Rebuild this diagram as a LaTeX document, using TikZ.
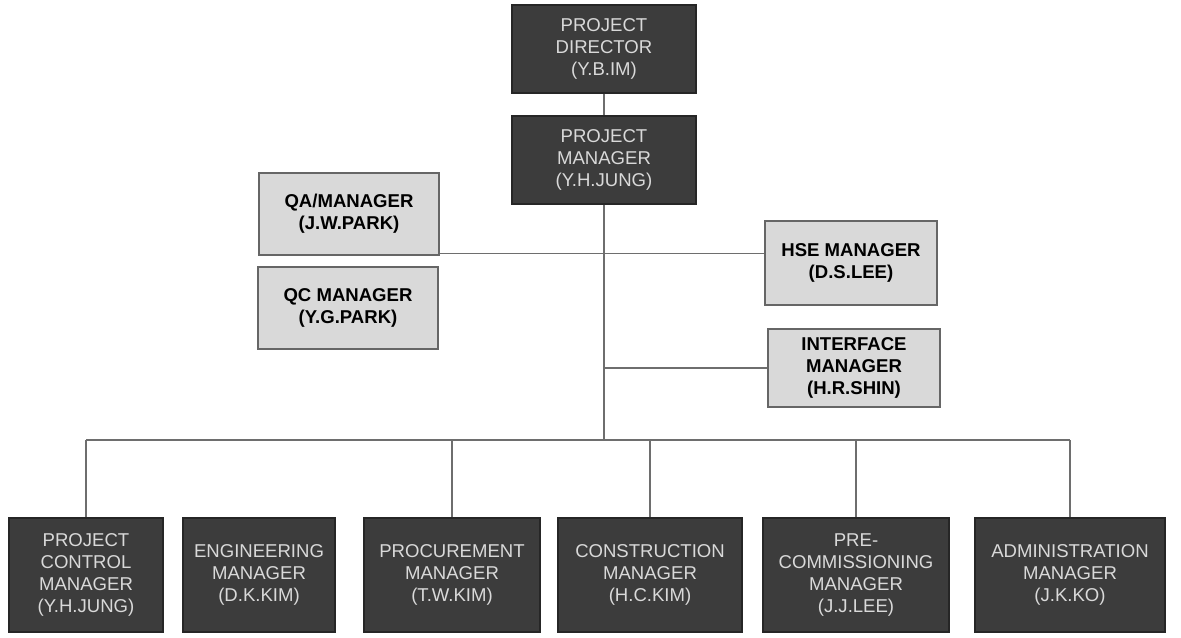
\documentclass[tikz,border=0pt]{standalone}
\usepackage{fontspec}
\setmainfont{Liberation Sans}
\usetikzlibrary{positioning}

\definecolor{boxdark}{HTML}{3C3C3C}
\definecolor{boxlight}{HTML}{D9D9D9}
\definecolor{linegray}{HTML}{6E6E6E}

\tikzset{
  darkbox/.style={draw=black!85, line width=0.8pt, fill=boxdark, text=white!85!black,
    align=center, inner sep=2pt, font=\fontsize{13.2}{15.6}\selectfont},
  lightbox/.style={draw=black!60, line width=1pt, fill=boxlight, text=black,
    align=center, inner sep=2pt, font=\bfseries\fontsize{13.2}{15.6}\selectfont},
  orgline/.style={draw=linegray, line width=1.1pt}
}

\begin{document}
\begin{tikzpicture}[x=0.025cm,y=-0.025cm]
        \useasboundingbox (0,0) rectangle (1181,637);

        % top of the chart
        \node[darkbox, minimum width=4.6cm, minimum height=2.2cm] (dir) at (604,49) {PROJECT\\DIRECTOR\\(Y.B.IM)};
        \node[darkbox, minimum width=4.6cm, minimum height=2.2cm] (pm) at (604,160) {PROJECT\\MANAGER\\(Y.H.JUNG)};

        % staff boxes
        \node[lightbox, minimum width=4.5cm, minimum height=2.05cm] (qa) at (349,214) {QA/MANAGER\\(J.W.PARK)};
        \node[lightbox, minimum width=4.5cm, minimum height=2.05cm] (qc) at (348,308) {QC MANAGER\\(Y.G.PARK)};
        \node[lightbox, minimum width=4.3cm, minimum height=2.1cm] (hse) at (851,263) {HSE MANAGER\\(D.S.LEE)};
        \node[lightbox, minimum width=4.3cm, minimum height=1.95cm] (intf) at (854,368) {INTERFACE\\MANAGER\\(H.R.SHIN)};

        % line managers
        \node[darkbox, minimum width=3.85cm, minimum height=2.85cm] (pcm) at (86,575) {PROJECT\\CONTROL\\MANAGER\\(Y.H.JUNG)};
        \node[darkbox, minimum width=3.8cm, minimum height=2.85cm] (eng) at (259,575) {ENGINEERING\\MANAGER\\(D.K.KIM)};
        \node[darkbox, minimum width=4.4cm, minimum height=2.85cm] (proc) at (452,575) {PROCUREMENT\\MANAGER\\(T.W.KIM)};
        \node[darkbox, minimum width=4.6cm, minimum height=2.85cm] (cons) at (650,575) {CONSTRUCTION\\MANAGER\\(H.C.KIM)};
        \node[darkbox, minimum width=4.65cm, minimum height=2.85cm] (prec) at (856,575) {PRE-\\COMMISSIONING\\MANAGER\\(J.J.LEE)};
        \node[darkbox, minimum width=4.75cm, minimum height=2.85cm] (adm) at (1070,575) {ADMINISTRATION\\MANAGER\\(J.K.KO)};

        \coordinate (bus) at (604,440);

        % connectors
        \draw[orgline] (dir) -- (pm);
        \draw[orgline] (pm.south) -- (bus);
        \draw[orgline] (qa.south east) ++(0,-2) coordinate (qaend) -- (hse.west |- qaend);
        \draw[orgline] (bus |- intf.west) -- (intf.west);
        \draw[orgline] (pcm.north |- bus) -- (adm.north |- bus);
        \foreach \b in {pcm,proc,cons,prec,adm}
            \draw[orgline] (\b.north |- bus) -- (\b.north);
\end{tikzpicture}
\end{document}
